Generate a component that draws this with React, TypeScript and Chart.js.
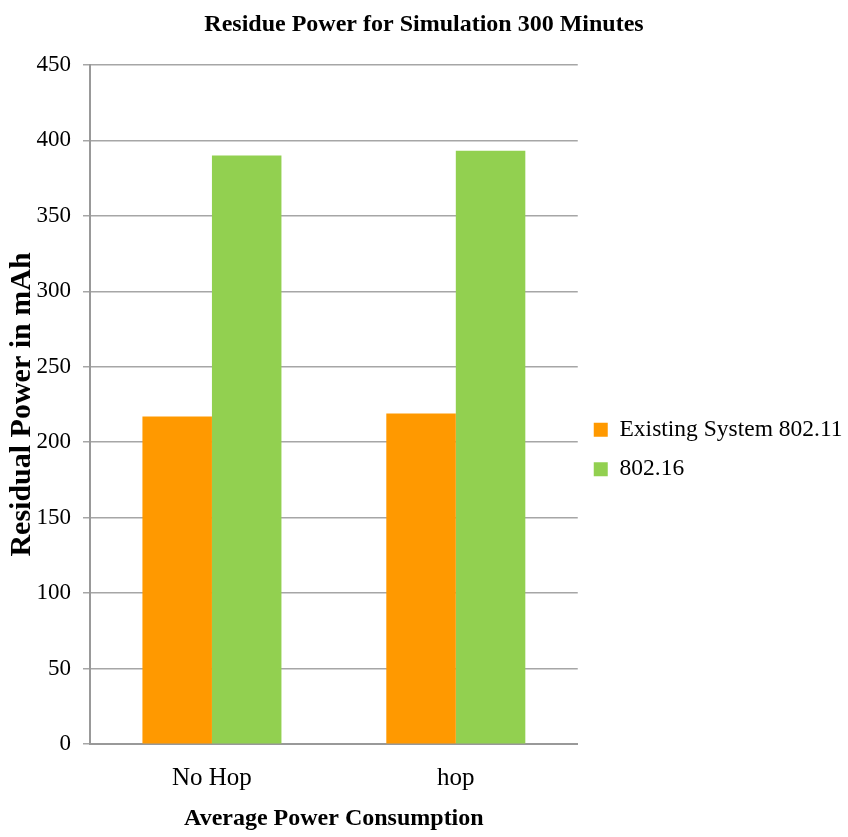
import React, { useEffect, useRef } from "react";
import { Chart, registerables } from "chart.js";

Chart.register(...registerables);

const categories = ["No Hop", "hop"];
const existingSystem80211 = [217, 219];
const system80216 = [390, 393];
const seriesNames = ["Existing System 802.11", "802.16"];
const chartTitle = "Residue Power for Simulation 300 Minutes";
const xTitle = "Average Power Consumption";
const yTitle = "Residual Power in mAh";

const layoutTweaks = {
  id: "layoutTweaks",
  afterLayout(chart: any) {
    if (chart.legend) {
      chart.legend.top += 27;
      chart.legend.bottom += 27;
      chart.legend.right = chart.width;
      chart.legend.width = chart.legend.right - chart.legend.left;
    }
    if (chart.titleBlock) {
      chart.titleBlock.left = 0;
      chart.titleBlock.right = chart.width;
      chart.titleBlock.width = chart.width;
    }
  },
};

export default function App() {
  const ref = useRef<HTMLCanvasElement | null>(null);
  useEffect(() => {
    if (!ref.current) return;
    const serif = "'Liberation Serif', 'Times New Roman', serif";
    const chart = new Chart(ref.current, {
      type: "bar",
      data: {
        labels: categories,
        datasets: [
          {
            label: seriesNames[0],
            data: existingSystem80211,
            backgroundColor: "#FF9900",
            categoryPercentage: 0.57,
            barPercentage: 1,
          },
          {
            label: seriesNames[1],
            data: system80216,
            backgroundColor: "#92D050",
            categoryPercentage: 0.57,
            barPercentage: 1,
          },
        ],
      },
      plugins: [layoutTweaks],
      options: {
        animation: false,
        responsive: false,
        maintainAspectRatio: false,
        layout: { padding: { left: 4, right: 79, top: 8, bottom: 0 } },
        plugins: {
          title: {
            display: true,
            text: chartTitle,
            color: "#000",
            font: { family: serif, size: 24, weight: "bold" },
            padding: { top: 2, bottom: 26 },
          },
          legend: {
            position: "right",
            labels: {
              color: "#000",
              font: { family: serif, size: 23.5 },
              boxWidth: 14,
              boxHeight: 14,
              padding: 16,
            },
          },
          tooltip: { enabled: false },
        },
        scales: {
          x: {
            grid: { display: false },
            border: { color: "#999", width: 2 },
            ticks: { color: "#000", font: { family: serif, size: 25 }, padding: 11 },
            title: {
              display: true,
              text: xTitle,
              color: "#000",
              font: { family: serif, size: 24, weight: "bold" },
              padding: { top: 0, bottom: 4 },
            },
          },
          y: {
            min: 0,
            max: 450,
            afterFit(scale: any) {
              scale.width = 86;
            },
            ticks: { stepSize: 50, color: "#000", font: { family: serif, size: 23 }, padding: 12 },
            grid: { color: "#a6a6a6", lineWidth: 1.5, tickLength: 7 },
            border: { color: "#999", width: 2 },
            title: {
              display: true,
              text: yTitle,
              color: "#000",
              font: { family: serif, size: 30, weight: "bold" },
              padding: { top: 0, bottom: 0 },
            },
          },
        },
      },
    });
    return () => chart.destroy();
  }, []);
  return (
    <div style={{ position: "fixed", left: 0, top: 0, width: 848, height: 837, background: "#fff" }}>
      <canvas ref={ref} width={848} height={837} />
    </div>
  );
}
